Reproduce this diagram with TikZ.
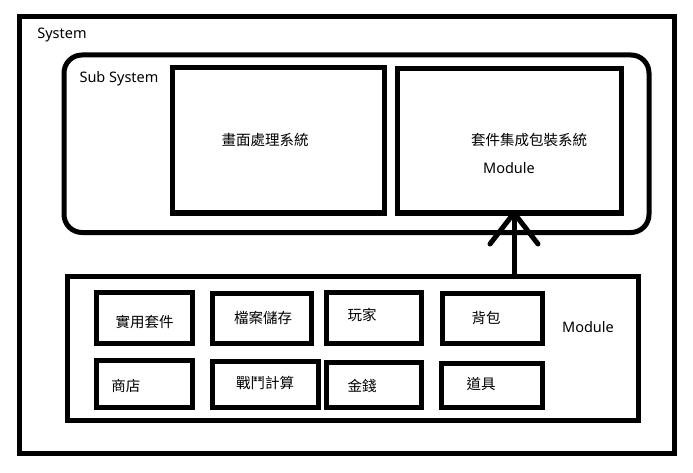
\documentclass[tikz,border=0pt]{standalone}
\usepackage{fontspec}
\setmainfont{Noto Sans}
\newfontfamily\cjk{Noto Sans CJK TC}
\usetikzlibrary{fit}

\begin{document}
\begin{tikzpicture}[x=1pt, y=-1pt,
  frame/.style={draw=black, line width=5pt, inner sep=0pt, rectangle},
  label/.style={inner sep=0pt, font=\fontsize{14.5}{16}\selectfont,
    text height=0.88em, text depth=0.12em, anchor=center},
  zh/.style={label, font=\cjk\fontsize{14.5}{16}\selectfont},
  conn/.style={line width=5pt, draw=black}]
\useasboundingbox (0,0) rectangle (693,473);

% outer system frame and subsystem frame
\node[frame, fit={(19.5,16.5) (674,453)}] (sys) {};
\node[frame, rounded corners=18pt, fit={(64,55) (649,232.5)}] (sub) {};

% subsystem members
\node[frame, fit={(172.5,67.5) (384,213)}] (gfx) {};
\node[frame, fit={(397.5,68.5) (621,213)}] (pack) {};

% module group and its members
\node[frame, fit={(67.5,276) (638,420)}] (mod) {};
\node[frame, fit={(96,292.5) (192.5,343)}] (b1) {};
\node[frame, fit={(212.5,293) (311.7,343)}] (b2) {};
\node[frame, fit={(326.5,292.5) (421,343)}] (b3) {};
\node[frame, fit={(442.5,293.5) (542,343)}] (b4) {};
\node[frame, fit={(96,360) (192.5,407.5)}] (b5) {};
\node[frame, fit={(212.5,361.5) (318,407)}] (b6) {};
\node[frame, fit={(326,362.5) (421.7,407)}] (b7) {};
\node[frame, fit={(441.5,363.5) (542,407.5)}] (b8) {};

% texts
\node[label] (tsys) at (62,35) {System};
\node[label] (tsub) at (119,79) {Sub System};
\node[zh] (tgfx) at (265,142) {畫面處理系統};
\node[zh] (tpack) at (529,142) {套件集成包裝系統};
\node[label] (tpackmod) at (509,170) {Module};
\node[label] (tmod) at (588,329) {Module};
\node[zh] (t1) at (144.5,323.3) {實用套件};
\node[zh] (t2) at (263,319.3) {檔案儲存};
\node[zh] (t3) at (362,316.7) {玩家};
\node[zh] (t4) at (486,319.3) {背包};
\node[zh] (t5) at (125.8,387.7) {商店};
\node[zh] (t6) at (265,384.3) {戰鬥計算};
\node[zh] (t7) at (362,387.3) {金錢};
\node[zh] (t8) at (481,385.3) {道具};

% arrow from the module group up to the packaging system
\coordinate (tip) at (514,213);
\draw[conn] (tip |- mod.north) -- (tip);
\draw[conn, line cap=round, line join=round] (tip) ++(-24,31) -- (tip) -- ++(24,31);
\end{tikzpicture}
\end{document}
